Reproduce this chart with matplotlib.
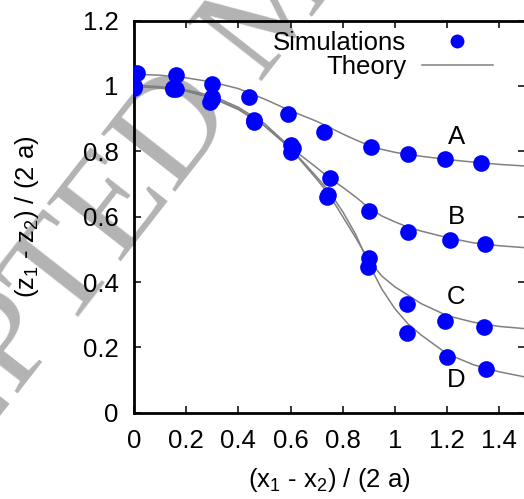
import numpy as np
import matplotlib
matplotlib.use("Agg")
import matplotlib.pyplot as plt

plt.rcParams['font.family'] = ['Liberation Sans', 'DejaVu Sans']
plt.rcParams['mathtext.fontset'] = 'custom'
plt.rcParams['mathtext.rm'] = 'Liberation Sans'

# simulation points
simA_x = [0.01, 0.16, 0.30, 0.44, 0.59, 0.73, 0.91, 1.05, 1.19, 1.33]
simA_y = [1.040, 1.033, 1.006, 0.967, 0.913, 0.860, 0.813, 0.791, 0.776, 0.763]
simB_x = [0.0, 0.15, 0.30, 0.46, 0.60, 0.75, 0.90, 1.05, 1.21, 1.345]
simB_y = [1.0, 0.995, 0.96, 0.896, 0.819, 0.717, 0.617, 0.554, 0.529, 0.516]
simC_x = [0.0, 0.16, 0.30, 0.46, 0.61, 0.745, 0.90, 1.045, 1.19, 1.34]
simC_y = [1.0, 0.99, 0.965, 0.894, 0.81, 0.665, 0.472, 0.333, 0.282, 0.263]
simD_x = [0.0, 0.15, 0.29, 0.46, 0.60, 0.74, 0.895, 1.045, 1.20, 1.35]
simD_y = [0.995, 0.99, 0.95, 0.89, 0.798, 0.66, 0.447, 0.243, 0.171, 0.133]

# theory curves, sampled by eye
theory_x = [0, 0.1, 0.2, 0.3, 0.4, 0.5, 0.6, 0.7, 0.75, 0.8, 0.85, 0.9,
            0.95, 1.0, 1.05, 1.1, 1.2, 1.3, 1.4, 1.5]
theoryA = [1.036, 1.033, 1.025, 1.012, 0.992, 0.960, 0.924, 0.892, 0.873, 0.853,
           0.835, 0.818, 0.806, 0.797, 0.790, 0.785, 0.775, 0.767, 0.760, 0.755]
theoryB = [1.003, 0.998, 0.988, 0.970, 0.935, 0.885, 0.812, 0.750, 0.718, 0.690,
           0.660, 0.627, 0.602, 0.584, 0.568, 0.556, 0.536, 0.520, 0.511, 0.505]
theoryC = [1.0, 0.995, 0.985, 0.965, 0.930, 0.878, 0.808, 0.715, 0.665, 0.600,
           0.535, 0.467, 0.418, 0.385, 0.360, 0.334, 0.297, 0.277, 0.264, 0.257]
theoryD = [0.998, 0.994, 0.984, 0.963, 0.928, 0.878, 0.810, 0.722, 0.675, 0.615,
           0.545, 0.455, 0.378, 0.318, 0.272, 0.238, 0.180, 0.147, 0.125, 0.109]

curve_labels = ['A', 'B', 'C', 'D']
label_x = [1.236, 1.234, 1.234, 1.234]
label_y = [0.845, 0.600, 0.355, 0.100]

xticks = [0, 0.2, 0.4, 0.6, 0.8, 1.0, 1.2, 1.4]
xticklabels = ['0', '0.2', '0.4', '0.6', '0.8', '1', '1.2', '1.4']
yticks = [0, 0.2, 0.4, 0.6, 0.8, 1.0, 1.2]
yticklabels = ['0', '0.2', '0.4', '0.6', '0.8', '1', '1.2']

fs = 18.5

fig = plt.figure(figsize=(5.24, 4.99), dpi=100)
ax = fig.add_axes([0.2557, 0.173, 0.747, 0.7856])
ax.set_facecolor('none')

# watermark behind everything
ax.text(0.532, 0.992, 'ACCEPTED MANUSCRIPT', transform=fig.transFigure,
        fontsize=104, family='Liberation Serif', color='#b3b3b3',
        rotation=52, rotation_mode='anchor', ha='center', va='center',
        zorder=0.5, clip_on=False)

gray = '#808080'
for th in [theoryA, theoryB, theoryC, theoryD]:
    ax.plot(theory_x, th, color=gray, lw=1.1, zorder=2)

sims = [(simA_x, simA_y), (simB_x, simB_y), (simC_x, simC_y), (simD_x, simD_y)]
for sx, sy in sims:
    ax.plot(sx, sy, 'o', color='#0000ff', ms=12, mec='none', zorder=3)

for lab, lx, ly in zip(curve_labels, label_x, label_y):
    ax.text(lx, ly, lab, fontsize=fs, ha='center', va='center', zorder=4)

# legend handles
h1, = ax.plot([], [], 'o', color='#0000ff', ms=10, mec='none')
h2, = ax.plot([], [], color=gray, lw=1.1)
ax.legend([h1, h2], ['Simulations', 'Theory'], markerfirst=False, frameon=False,
          fontsize=fs, loc='upper right', bbox_to_anchor=(0.975, 1.033),
          handlelength=2.75, labelspacing=0.0, handletextpad=0.6)

ax.set_xlim(0, 1.5)
ax.set_ylim(0, 1.2)
ax.set_xticks(xticks)
ax.set_xticklabels(xticklabels)
ax.set_yticks(yticks)
ax.set_yticklabels(yticklabels)
ax.tick_params(direction='in', length=5, width=1.1, labelsize=fs,
               top=True, right=True)
ax.tick_params(axis='x', pad=12)
ax.tick_params(axis='y', pad=11)
for sp in ax.spines.values():
    sp.set_linewidth(2.0)

ax.set_xlabel('(x$\\mathregular{_1}$ - x$\\mathregular{_2}$) / (2 a)', fontsize=fs, labelpad=9)
ax.set_ylabel('(z$\\mathregular{_1}$ - z$\\mathregular{_2}$) / (2 a)', fontsize=fs, labelpad=30)

fig.savefig('out.png', dpi=100)
